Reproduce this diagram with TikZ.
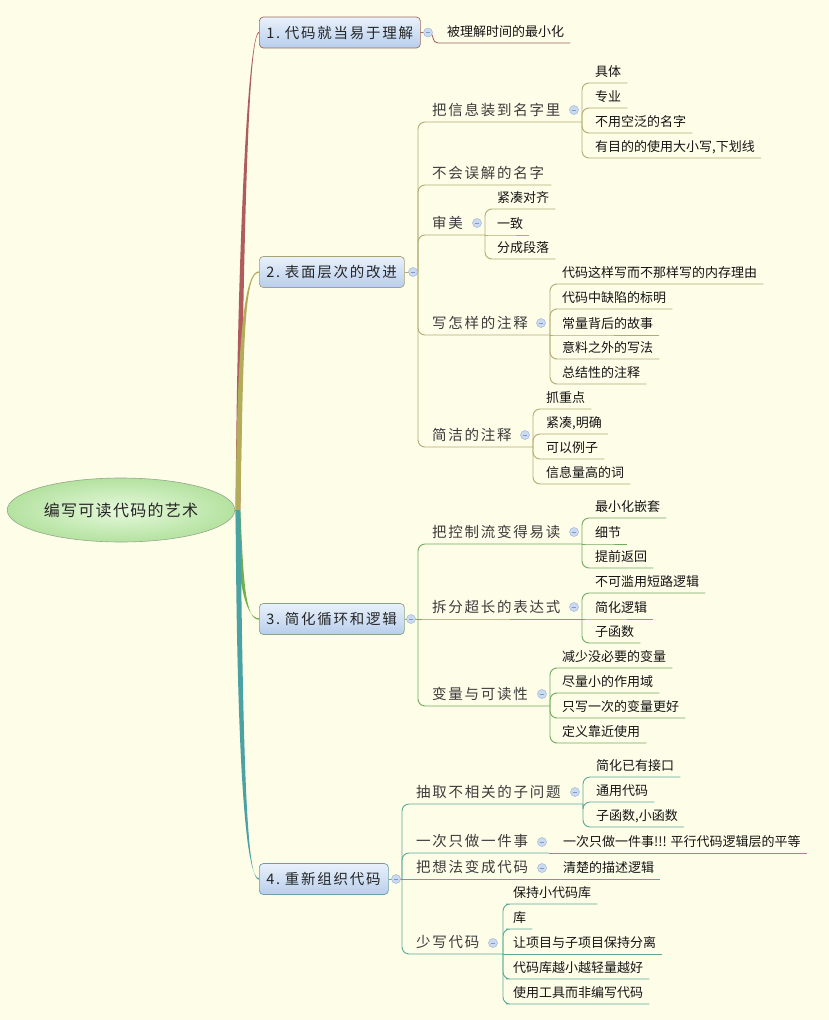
\documentclass[tikz,border=0pt]{standalone}
\usepackage{fontspec}
\setmainfont{Noto Sans CJK SC}
\newfontfamily\spacedcjk[LetterSpace=12]{Noto Sans CJK SC}
\newfontfamily\topiccjk[LetterSpace=12]{Noto Sans CJK SC}
\newfontfamily\rootcjk[LetterSpace=8]{Noto Sans CJK SC}
\usetikzlibrary{shapes.geometric,calc}

\definecolor{bg}{HTML}{FDFDE8}
\definecolor{br1}{HTML}{B05C5C}
\definecolor{br2}{HTML}{B3AC5A}
\definecolor{br3}{HTML}{70AE4E}
\definecolor{br4}{HTML}{4AA2A2}
\definecolor{ln1}{HTML}{A0665A}
\definecolor{ln2}{HTML}{B2AC72}
\definecolor{ln3}{HTML}{72AC5E}
\definecolor{ln4}{HTML}{5EA898}
\definecolor{bx1}{HTML}{9E6A62}
\definecolor{bx2}{HTML}{A6A27A}
\definecolor{bx3}{HTML}{84A686}
\definecolor{bx4}{HTML}{6C9EA6}
\definecolor{boxtop}{HTML}{E9F1FB}
\definecolor{boxbot}{HTML}{B8CEEC}
\definecolor{boxtext}{HTML}{262626}
\definecolor{subtext}{HTML}{3C3C3C}
\definecolor{leaftext}{HTML}{141414}
\definecolor{rootin}{HTML}{E6F9DC}
\definecolor{rootout}{HTML}{B4E2A0}
\definecolor{rootdraw}{HTML}{94A88A}
\definecolor{rootline}{HTML}{6F93A6}
\definecolor{cfill}{HTML}{CCDAF0}
\definecolor{cdraw}{HTML}{A4B8D8}
\definecolor{cminus}{HTML}{7D9ACB}

\tikzset{
  topic/.style={rounded corners=4pt, top color=boxtop, bottom color=boxbot,
    line width=0.7pt, anchor=west, minimum height=31pt, inner xsep=7pt,
    inner ysep=0pt, align=left, text height=13pt, text depth=2pt,
    font=\topiccjk\fontsize{14.5}{16}\selectfont, text=boxtext},
  sub/.style={anchor=south west, inner xsep=0pt, inner ysep=4.5pt,
    text height=11pt, text depth=2pt,
    font=\spacedcjk\fontsize{14.5}{16}\selectfont, text=subtext},
  leaf/.style={anchor=south west, inner xsep=0pt, inner ysep=4.1pt,
    text height=10pt, text depth=2pt,
    font=\fontsize{13}{15}\selectfont, text=leaftext},
  link/.style={line width=0.9pt, rounded corners=7pt},
  collapse/.style={circle, minimum size=9pt, inner sep=0pt, fill=cfill,
    draw=cdraw, line width=0.5pt,
    path picture={\draw[cminus, line width=0.9pt]
      ([xshift=-2.3pt]path picture bounding box.center) --
      ([xshift=2.3pt]path picture bounding box.center);}},
}

% tapered main branch: colour, target topic, vertical pull, horizontal pull
\newcommand\trunk[4]{%
  \fill[#1] ($(rj)+(-2.4,0)$) .. controls +(1.5,#3) and +(#4,0) ..
    ($(#2.west)+(0,-0.7)$) -- ($(#2.west)+(0,0.7)$) .. controls +(#4,0) and +(3,#3) ..
    ($(rj)+(2.4,0)$) -- cycle;}

\begin{document}
\begin{tikzpicture}[x=1pt,y=-1pt]
\fill[bg] (0,0) rectangle (829,1020);
\useasboundingbox (0,0) rectangle (829,1020);

% central topic
\node[ellipse, minimum width=210pt, minimum height=64pt, draw=rootdraw,
  line width=0.6pt, inner color=rootin, outer color=rootout,
  font=\rootcjk\fontsize{16}{18}\selectfont, text=boxtext] (root) at (121,510) {编写可读代码的艺术};
\coordinate (rj) at (238,510);

% main topics
\node[topic, draw=bx1, text width=147pt] (b1) at (259,32.5) {\mbox{1.~代码就当易于理解}};
\node[topic, draw=bx2, text width=131pt] (b2) at (259,272) {\mbox{2.~表面层次的改进}};
\node[topic, draw=bx3, text width=131pt] (b3) at (259,619) {\mbox{3.~简化循环和逻辑}};
\node[topic, draw=bx4, text width=115pt] (b4) at (259,879) {\mbox{4.~重新组织代码}};

% branches from the central topic
\draw[rootline, line width=0.8pt] (root.east) -- (rj);
\trunk{br1}{b1}{-260}{-11}
\trunk{br2}{b2}{-180}{-14}
\trunk{br3}{b3}{70}{-14}
\trunk{br4}{b4}{290}{-11}

% ---------- 1 ----------
\coordinate (s1) at (433,32.5);
\node[leaf] (l11) at (447,43) {被理解时间的最小化};
\draw[ln1, line width=0.9pt, rounded corners=5pt] (b1.east) -- (s1) |- (l11.south west) -- ([xshift=6pt]l11.south east);
\node[collapse] (k1) at (428,32.5) {};

% ---------- 2 ----------
\coordinate (s2) at (418,272);
\node[sub] (a1) at (432,122) {把信息装到名字里};
\node[sub] (a2) at (432,185) {不会误解的名字};
\node[sub] (a3) at (432,235) {审美};
\node[sub] (a4) at (432,335) {写怎样的注释};
\node[sub] (a5) at (432,447) {简洁的注释};
\coordinate (ja1) at (582,122);
\coordinate (ja3) at (485,235);
\coordinate (ja4) at (550,335);
\coordinate (ja5) at (533,447);
\draw[ln2, link] (b2.east) -- (s2);
\draw[ln2, link] (s2) |- (a1.south west) -- (ja1);
\draw[ln2, link] (s2) |- (a2.south west) -- ([xshift=7pt]a2.south east);
\draw[ln2, link] (s2) |- (a3.south west) -- (ja3);
\draw[ln2, link] (s2) |- (a4.south west) -- (ja4);
\draw[ln2, link] (s2) |- (a5.south west) -- (ja5);

\node[leaf] (a11) at (595,83) {具体};
\node[leaf] (a12) at (595,108) {专业};
\node[leaf] (a13) at (595,133) {不用空泛的名字};
\node[leaf] (a14) at (595,158) {有目的的使用大小写,下划线};
\foreach \n in {a11,a12,a13,a14}
  \draw[ln2, link] (ja1) |- (\n.south west) -- ([xshift=6pt]\n.south east);

\node[leaf] (a31) at (497,209) {紧凑对齐};
\node[leaf] (a32) at (497,235) {一致};
\node[leaf] (a33) at (497,259) {分成段落};
\draw[ln2, link] (ja3) |- (a31.south west) -- ([xshift=6pt]a31.south east);
\draw[ln2, link] (ja3) -- (a32.south west) -- ([xshift=6pt]a32.south east);
\draw[ln2, link] (ja3) |- (a33.south west) -- ([xshift=6pt]a33.south east);

\node[leaf] (a41) at (562,284) {代码这样写而不那样写的内存理由};
\node[leaf] (a42) at (562,309) {代码中缺陷的标明};
\node[leaf] (a43) at (562,335) {常量背后的故事};
\node[leaf] (a44) at (562,359) {意料之外的写法};
\node[leaf] (a45) at (562,384) {总结性的注释};
\foreach \n in {a41,a42,a44,a45}
  \draw[ln2, link] (ja4) |- (\n.south west) -- ([xshift=6pt]\n.south east);
\draw[ln2, link] (ja4) -- (a43.south west) -- ([xshift=6pt]a43.south east);

\node[leaf] (a51) at (546,409) {抓重点};
\node[leaf] (a52) at (546,434) {紧凑,明确};
\node[leaf] (a53) at (546,459) {可以例子};
\node[leaf] (a54) at (546,484) {信息量高的词};
\foreach \n in {a51,a52,a53,a54}
  \draw[ln2, link] (ja5) |- (\n.south west) -- ([xshift=6pt]\n.south east);

\node[collapse] (k2) at (413,272) {};
\node[collapse] (ka1) at (574,110) {};
\node[collapse] (ka3) at (477,223) {};
\node[collapse] (ka4) at (541,323) {};
\node[collapse] (ka5) at (525,435) {};

% ---------- 3 ----------
\coordinate (s3) at (418,619);
\node[sub] (c1) at (432,544) {把控制流变得易读};
\node[sub] (c2) at (432,619) {拆分超长的表达式};
\node[sub] (c3) at (432,706) {变量与可读性};
\coordinate (jc1) at (582,544);
\coordinate (jc2) at (582,619);
\coordinate (jc3) at (550,706);
\draw[ln3, link] (b3.east) -- (s3);
\draw[ln3, link] (s3) |- (c1.south west) -- (jc1);
\draw[ln3, link] (s3) -- (c2.south west) -- (jc2);
\draw[ln3, link] (s3) |- (c3.south west) -- (jc3);

\node[leaf] (c11) at (595,518) {最小化嵌套};
\node[leaf] (c12) at (595,544) {细节};
\node[leaf] (c13) at (595,568) {提前返回};
\draw[ln3, link] (jc1) |- (c11.south west) -- ([xshift=6pt]c11.south east);
\draw[ln3, link] (jc1) -- (c12.south west) -- ([xshift=6pt]c12.south east);
\draw[ln3, link] (jc1) |- (c13.south west) -- ([xshift=6pt]c13.south east);

\node[leaf] (c21) at (595,593) {不可滥用短路逻辑};
\node[leaf] (c22) at (595,619) {简化逻辑};
\node[leaf] (c23) at (595,643) {子函数};
\draw[ln3, link] (jc2) |- (c21.south west) -- ([xshift=6pt]c21.south east);
\draw[ln3, link] (jc2) -- (c22.south west) -- ([xshift=6pt]c22.south east);
\draw[ln3, link] (jc2) |- (c23.south west) -- ([xshift=6pt]c23.south east);

\node[leaf] (c31) at (562,668) {减少没必要的变量};
\node[leaf] (c32) at (562,693) {尽量小的作用域};
\node[leaf] (c33) at (562,718) {只写一次的变量更好};
\node[leaf] (c34) at (562,743) {定义靠近使用};
\foreach \n in {c31,c32,c33,c34}
  \draw[ln3, link] (jc3) |- (\n.south west) -- ([xshift=6pt]\n.south east);

\node[collapse] (k3) at (411,619) {};
\node[collapse] (kc1) at (574,532) {};
\node[collapse] (kc2) at (574,607) {};
\node[collapse] (kc3) at (542,694) {};

% ---------- 4 ----------
\coordinate (s4) at (402,879);
\node[sub] (d1) at (416,804) {抽取不相关的子问题};
\node[sub] (d2) at (416,853) {一次只做一件事};
\node[sub] (d3) at (416,879) {把想法变成代码};
\node[sub] (d4) at (416,954) {少写代码};
\coordinate (jd1) at (583,804);
\coordinate (jd2) at (549,853);
\coordinate (jd3) at (549,879);
\coordinate (jd4) at (503,954);
\draw[ln4, link] (b4.east) -- (s4);
\draw[ln4, link] (s4) |- (d1.south west) -- (jd1);
\draw[ln4, link] (s4) |- (d2.south west) -- (jd2);
\draw[ln4, link] (s4) -- (d3.south west) -- (jd3);
\draw[ln4, link] (s4) |- (d4.south west) -- (jd4);

\node[leaf] (d11) at (596,777) {简化已有接口};
\node[leaf] (d12) at (596,802) {通用代码};
\node[leaf] (d13) at (596,827) {子函数,小函数};
\foreach \n in {d11,d12,d13}
  \draw[ln4, link] (jd1) |- (\n.south west) -- ([xshift=6pt]\n.south east);

\node[leaf] (d21) at (563,853) {一次只做一件事!!! 平行代码逻辑层的平等};
\draw[ln4, link] (jd2) -- (d21.south west) -- ([xshift=6pt]d21.south east);
\node[leaf] (d31) at (563,879) {清楚的描述逻辑};
\draw[ln4, link] (jd3) -- (d31.south west) -- ([xshift=6pt]d31.south east);

\node[leaf] (d41) at (513,904) {保持小代码库};
\node[leaf] (d42) at (513,929) {库};
\node[leaf] (d43) at (513,954) {让项目与子项目保持分离};
\node[leaf] (d44) at (513,979) {代码库越小越轻量越好};
\node[leaf] (d45) at (513,1004) {使用工具而非编写代码};
\foreach \n in {d41,d42,d44,d45}
  \draw[ln4, link] (jd4) |- (\n.south west) -- ([xshift=6pt]\n.south east);
\draw[ln4, link] (jd4) -- (d43.south west) -- ([xshift=6pt]d43.south east);

\node[collapse] (k4) at (396,879) {};
\node[collapse] (kd1) at (575,792) {};
\node[collapse] (kd2) at (542,842) {};
\node[collapse] (kd3) at (542,868) {};
\node[collapse] (kd4) at (493,943) {};
\end{tikzpicture}
\end{document}
